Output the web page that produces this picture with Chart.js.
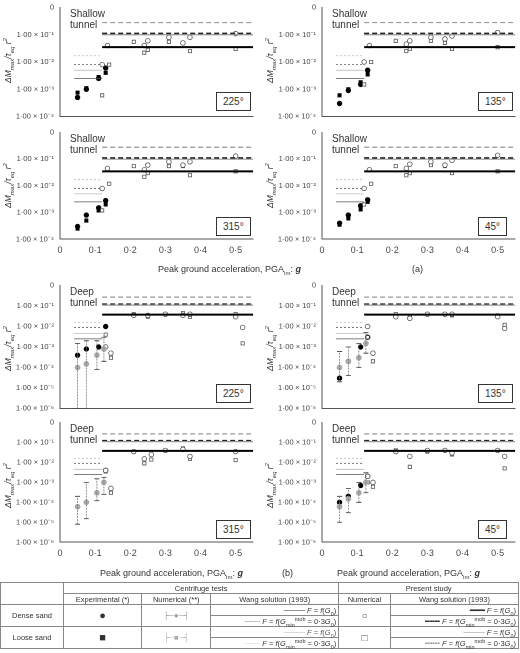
<!DOCTYPE html>
<html><head><meta charset="utf-8">
<script src="https://cdn.jsdelivr.net/npm/chart.js@4/dist/chart.umd.min.js"></script>
<style>
body{margin:0;width:520px;height:653px;position:relative;font-family:"Liberation Sans",Arial,sans-serif;color:#333;background:#fff;overflow:hidden}
canvas{position:absolute}
.t{position:absolute;font-size:10px;line-height:11px}
.box{position:absolute;border:1px solid #333;font-size:10px;padding:3px 6px;background:#fff}
.yl{position:absolute;font-size:8.5px;transform:rotate(-90deg);transform-origin:left top;white-space:nowrap;font-style:italic}
table{position:absolute;left:0;top:582px;width:519px;border-collapse:collapse;font-size:7.5px;line-height:9px}
td{border:1px solid #888;text-align:center;padding:0 2px;height:10px}
td sub,td sup{font-size:5.5px;line-height:0}
</style></head><body>
<script>
// 横轴刻度 PGA
const pgaTicks = [0, 0.1, 0.2, 0.3, 0.4, 0.5];

// 浅埋隧道 (a) —— 离心试验 实心点
const s225Circ = [[0.05,5e-4],[0.075,1e-3],[0.11,2.5e-3],[0.13,6e-3]];
const s225Sq = [[0.05,7.5e-4],[0.075,1.1e-3],[0.11,2.8e-3],[0.13,4e-3]];
const s225Open = [[0.12,8e-3],[0.135,0.04],[0.24,0.04],[0.25,0.06],[0.31,0.08],[0.35,0.05],[0.37,0.08],[0.5,0.11]];
const s225OpenSq = [[0.12,6e-4],[0.14,8e-3],[0.21,0.055],[0.24,0.022],[0.25,0.028],[0.31,0.055],[0.35,0.05],[0.37,0.025],[0.5,0.03]];

const s135Circ = [[0.05,3e-4],[0.075,9e-4],[0.11,1.5e-3],[0.13,5e-3]];
const s135Sq = [[0.05,6e-4],[0.075,1e-3],[0.11,1.8e-3],[0.13,3.5e-3]];
const s135Open = [[0.12,1e-2],[0.135,0.04],[0.24,0.045],[0.25,0.06],[0.31,0.08],[0.35,0.07],[0.37,0.09],[0.5,0.12]];
const s135OpenSq = [[0.12,1.5e-3],[0.14,1e-2],[0.21,0.06],[0.24,0.025],[0.25,0.03],[0.31,0.06],[0.35,0.05],[0.37,0.03],[0.5,0.035]];

const s315Circ = [[0.05,3e-4],[0.075,8e-4],[0.11,1.5e-3],[0.13,2.8e-3]];
const s315Sq = [[0.05,2.5e-4],[0.075,5e-4],[0.11,1.2e-3],[0.13,2e-3]];
const s315Open = [[0.12,8e-3],[0.135,0.045],[0.24,0.04],[0.25,0.06],[0.31,0.08],[0.35,0.06],[0.37,0.08],[0.5,0.13]];
const s315OpenSq = [[0.12,1.2e-3],[0.14,0.012],[0.21,0.055],[0.24,0.022],[0.25,0.03],[0.31,0.055],[0.35,0.055],[0.37,0.025],[0.5,0.035]];

const s45Circ = [[0.05,4e-4],[0.075,8e-4],[0.11,1.8e-3],[0.13,3e-3]];
const s45Sq = [[0.05,3.5e-4],[0.075,6e-4],[0.11,1.3e-3],[0.13,2.5e-3]];
const s45Open = [[0.12,8e-3],[0.135,0.04],[0.24,0.045],[0.25,0.065],[0.31,0.08],[0.35,0.06],[0.37,0.09],[0.5,0.14]];
const s45OpenSq = [[0.12,2e-3],[0.14,0.012],[0.21,0.055],[0.24,0.025],[0.25,0.03],[0.31,0.06],[0.35,0.055],[0.37,0.03],[0.5,0.035]];

// 深埋隧道 (b) —— 数值误差棒 [x, 中值, 下限, 上限]
const d225Num = [[0.05,1e-4,1e-6,1.5e-3],[0.075,1.5e-4,1e-6,2e-3],[0.105,4e-4,8e-5,2e-3],[0.125,8e-4,2e-4,3e-3]];
const d225Circ = [[0.05,4e-4],[0.075,8e-4],[0.11,1e-3],[0.13,1e-2]];
const d225Open = [[0.13,1e-3],[0.145,5e-4],[0.21,0.035],[0.25,0.035],[0.3,0.04],[0.35,0.035],[0.37,0.04],[0.5,0.03],[0.52,0.009]];
const d225OpenSq = [[0.13,4e-3],[0.145,3e-4],[0.21,0.04],[0.25,0.03],[0.3,0.04],[0.35,0.045],[0.37,0.03],[0.5,0.04],[0.52,1.5e-3]];

const d135Num = [[0.05,1e-4,2e-5,6e-4],[0.075,2e-4,4e-5,1e-3],[0.105,3e-4,1e-4,1.5e-3],[0.125,1.5e-3,5e-4,5e-3]];
const d135Circ = [[0.05,3e-5],[0.075,2e-4],[0.11,1e-3],[0.13,3e-3]];
const d135Open = [[0.13,1e-2],[0.145,5e-4],[0.21,0.03],[0.25,0.025],[0.3,0.04],[0.35,0.04],[0.37,0.04],[0.5,0.03],[0.52,0.008]];
const d135OpenSq = [[0.13,3e-3],[0.145,2e-4],[0.21,0.04],[0.25,0.03],[0.3,0.04],[0.35,0.04],[0.37,0.035],[0.5,0.035],[0.52,0.012]];

const d315Num = [[0.05,6e-5,8e-6,2e-4],[0.075,1e-4,1.5e-5,1e-3],[0.105,3e-4,1.2e-4,1.5e-3],[0.125,1e-3,2.5e-4,1.8e-3]];
const d315Circ = [[0.13,4e-3]];
const d315Open = [[0.13,4e-3],[0.145,5e-4],[0.21,0.035],[0.24,0.015],[0.26,0.025],[0.3,0.04],[0.35,0.045],[0.37,0.02],[0.5,0.035]];
const d315OpenSq = [[0.13,3.5e-3],[0.145,3e-4],[0.21,0.035],[0.24,0.009],[0.26,0.014],[0.3,0.04],[0.35,0.05],[0.37,0.015],[0.5,0.013]];

const d45Num = [[0.05,6e-5,1e-5,2e-4],[0.075,1.5e-4,3e-5,5e-4],[0.105,3e-4,1e-4,1e-3],[0.125,1e-3,3e-4,3e-3]];
const d45Circ = [[0.05,1e-4],[0.075,2e-4],[0.11,7e-4],[0.13,2e-3]];
const d45Open = [[0.13,2e-3],[0.145,1e-3],[0.21,0.035],[0.25,0.02],[0.3,0.04],[0.35,0.04],[0.37,0.03],[0.5,0.04],[0.52,0.02]];
const d45OpenSq = [[0.13,1e-3],[0.145,6e-4],[0.21,0.04],[0.25,0.006],[0.3,0.035],[0.35,0.04],[0.37,0.025],[0.5,0.04],[0.52,0.005]];

// Wang 解: [离心 G0 实线, 离心 0.3G0 点线, 松砂 G0, 松砂 0.3G0] 和 [本文 黑实, 黑虚, 灰实, 灰虚]
const shallowCentLines = [0.0025, 0.008, 0.005, 0.017];
const shallowStudyLines = [0.035, 0.11, 0.1, 0.28];
const deepCentLines = [0.0025, 0.009, 0.0045, 0.016];
const deepStudyLines = [0.038, 0.12, 0.11, 0.27];

const panels = [
  {x:0, top:5, bot:118, depth:'Shallow', ang:'225°', c:s225Circ, s:s225Sq, o:s225Open, q:s225OpenSq, xl:false},
  {x:262, top:5, bot:118, depth:'Shallow', ang:'135°', c:s135Circ, s:s135Sq, o:s135Open, q:s135OpenSq, xl:false},
  {x:0, top:130, bot:243, depth:'Shallow', ang:'315°', c:s315Circ, s:s315Sq, o:s315Open, q:s315OpenSq, xl:true},
  {x:262, top:130, bot:243, depth:'Shallow', ang:'45°', c:s45Circ, s:s45Sq, o:s45Open, q:s45OpenSq, xl:true},
  {x:0, top:283, bot:410, depth:'Deep', ang:'225°', c:d225Circ, n:d225Num, o:d225Open, q:d225OpenSq, xl:false},
  {x:262, top:283, bot:410, depth:'Deep', ang:'135°', c:d135Circ, n:d135Num, o:d135Open, q:d135OpenSq, xl:false},
  {x:0, top:420, bot:546, depth:'Deep', ang:'315°', c:d315Circ, n:d315Num, o:d315Open, q:d315OpenSq, xl:true},
  {x:262, top:420, bot:546, depth:'Deep', ang:'45°', c:d45Circ, n:d45Num, o:d45Open, q:d45OpenSq, xl:true},
];

const sup = {'-':'⁻','1':'¹','2':'²','3':'³','4':'⁴','5':'⁵','6':'⁶'};
function yLabel(v) {
  const e = Math.round(Math.log10(v));
  if (e === 0) return '0';
  return '1·00 × 10' + String(e).split('').map(ch => sup[ch]).join('');
}

function hline(v, x0, x1, color, width, dash) {
  return {type:'line', data:[{x:x0,y:v},{x:x1,y:v}], borderColor:color, borderWidth:width, borderDash:dash, pointRadius:0};
}

function pts(arr, style, fill, r) {
  return {type:'scatter', data:arr.map(p => ({x:p[0], y:p[1]})), pointStyle:style, pointRadius:r,
    backgroundColor:fill, borderColor: fill === '#fff' ? '#555' : fill, borderWidth:0.8};
}

function draw(p) {
  const deep = p.depth === 'Deep';
  const yMin = deep ? 1e-6 : 1e-4;
  const xh = p.xl ? 16 : 6;
  const cv = document.createElement('canvas');
  cv.style.left = p.x + 'px';
  cv.style.top = (p.top - 5) + 'px';
  cv.style.width = '258px';
  cv.style.height = (p.bot - p.top + 5 + xh) + 'px';
  document.body.appendChild(cv);

  const cl = deep ? deepCentLines : shallowCentLines;
  const sl = deep ? deepStudyLines : shallowStudyLines;
  const ds = [
    hline(cl[3], 0.04, 0.12, '#bbb', 0.8, [2,2]),
    hline(cl[1], 0.04, 0.12, '#555', 0.8, [2,2]),
    hline(cl[2], 0.04, 0.12, '#bbb', 0.8, []),
    hline(cl[0], 0.04, 0.12, '#555', 0.8, []),
    hline(sl[3], 0.12, 0.55, '#999', 1.2, [5,3]),
    hline(sl[2], 0.12, 0.55, '#999', 1.2, []),
    hline(sl[1], 0.12, 0.55, '#222', 2, [5,3]),
    hline(sl[0], 0.12, 0.55, '#000', 2, []),
  ];
  if (p.n) {
    const bars = [];
    p.n.forEach(b => { bars.push({x:b[0],y:b[2]},{x:b[0],y:b[3]},{x:b[0],y:null}); });
    ds.push({type:'line', data:bars, borderColor:'#777', borderWidth:0.8, borderDash:[2,1], pointRadius:0, spanGaps:false});
    ds.push(pts(p.n.map(b => [b[0], b[2]]), 'line', '#333', 2.5));
    ds.push(pts(p.n.map(b => [b[0], b[3]]), 'line', '#333', 2.5));
    ds.push(pts(p.n.map(b => [b[0], b[1]]), 'circle', '#aaa', 2.5));
  }
  ds.push(pts(p.o, 'circle', '#fff', 2.3));
  ds.push(pts(p.q, 'rect', '#fff', 2.3));
  ds.push(pts(p.c, 'circle', '#000', 2.3));
  if (p.s) ds.push(pts(p.s, 'rect', '#000', 2.3));

  new Chart(cv, {
    data: {datasets: ds},
    options: {
      responsive:false, animation:false, devicePixelRatio:2,
      layout:{padding:{top:5, right:4}},
      plugins:{legend:{display:false}, tooltip:{enabled:false}},
      scales:{
        x:{type:'linear', min:0, max:0.55, grid:{display:false, drawTicks:true, tickLength:3},
           border:{color:'#555'},
           afterBuildTicks: a => { a.ticks = pgaTicks.map(v => ({value:v})); },
           ticks:{display:p.xl, color:'#444', font:{size:9}, padding:3, callback: v => String(Math.round(v*10)/10).replace('.', '·')}},
        y:{type:'logarithmic', min:yMin, max:1, grid:{display:false, tickLength:3},
           border:{color:'#555'},
           afterBuildTicks: a => { const t=[]; for (let v=yMin; v<=1.0001; v*=10) t.push({value:v}); a.ticks=t; },
           afterFit: a => { a.width = 60; },
           ticks:{color:'#444', font:{size:7.5}, padding:3, callback: v => yLabel(v)}}
      }
    }
  });

  const t = document.createElement('div');
  t.className = 't';
  t.style.left = (p.x + 70) + 'px'; t.style.top = (p.top + 3) + 'px';
  t.innerHTML = p.depth + '<br>tunnel';
  document.body.appendChild(t);
  const b = document.createElement('div');
  b.className = 'box';
  b.style.left = (p.x + 216) + 'px'; b.style.top = (p.bot - 26) + 'px';
  b.textContent = p.ang;
  document.body.appendChild(b);
  const y = document.createElement('div');
  y.className = 'yl';
  y.style.left = (p.x + 2) + 'px'; y.style.top = (p.top + (deep ? 88 : 78)) + 'px';
  y.innerHTML = 'ΔM<sub style="font-size:6px">max</sub>/τ<sub style="font-size:6px">eq</sub> r<sup style="font-size:6px">2</sup>';
  document.body.appendChild(y);
}

panels.forEach(draw);
</script>
<div class="t" style="left:158px;top:264px;font-size:9px">Peak ground acceleration, PGA<sub style="font-size:6px">im</sub>: <b><i>g</i></b></div>
<div class="t" style="left:412px;top:264px;font-size:9px">(a)</div>
<div class="t" style="left:100px;top:568px;font-size:9px">Peak ground acceleration, PGA<sub style="font-size:6px">im</sub>: <b><i>g</i></b></div>
<div class="t" style="left:282px;top:568px;font-size:9px">(b)</div>
<div class="t" style="left:337px;top:568px;font-size:9px">Peak ground acceleration, PGA<sub style="font-size:6px">im</sub>: <b><i>g</i></b></div>
<table>
<tr><td rowspan="2" style="width:58px"></td><td colspan="3">Centrifuge tests</td><td colspan="2">Present study</td></tr>
<tr><td>Experimental (*)</td><td>Numerical (**)</td><td>Wang solution (1993)</td><td>Numerical</td><td>Wang solution (1993)</td></tr>
<tr><td rowspan="2">Dense sand</td><td rowspan="2" style="font-size:11px">●</td><td rowspan="2" style="color:#999">├─●─┤</td><td style="text-align:right">──── <i>F</i> = <i>f</i>(<i>G</i><sub>0</sub>)</td><td rowspan="2" style="font-size:10px;color:#555">○</td><td style="text-align:right"><b>━━━</b> <i>F</i> = <i>f</i>(<i>G</i><sub>0</sub>)</td></tr>
<tr><td style="text-align:right">┈┈┈ <i>F</i> = <i>f</i>(<i>G</i><sub>min</sub><sup>mob</sup> = 0·3<i>G</i><sub>0</sub>)</td><td style="text-align:right"><b>╍╍╍</b> <i>F</i> = <i>f</i>(<i>G</i><sub>min</sub><sup>mob</sup> = 0·3<i>G</i><sub>0</sub>)</td></tr>
<tr><td rowspan="2">Loose sand</td><td rowspan="2" style="font-size:11px">■</td><td rowspan="2" style="color:#aaa">├┄■┄┤</td><td style="text-align:right;color:#555"><span style="color:#bbb">────</span> <i>F</i> = <i>f</i>(<i>G</i><sub>0</sub>)</td><td rowspan="2" style="font-size:10px;color:#555">□</td><td style="text-align:right"><span style="color:#999">────</span> <i>F</i> = <i>f</i>(<i>G</i><sub>0</sub>)</td></tr>
<tr><td style="text-align:right"><span style="color:#bbb">┈┈┈</span> <i>F</i> = <i>f</i>(<i>G</i><sub>min</sub><sup>mob</sup> = 0·3<i>G</i><sub>0</sub>)</td><td style="text-align:right"><span style="color:#999">╍╍╍</span> <i>F</i> = <i>f</i>(<i>G</i><sub>min</sub><sup>mob</sup> = 0·3<i>G</i><sub>0</sub>)</td></tr>
</table>
</body></html>
